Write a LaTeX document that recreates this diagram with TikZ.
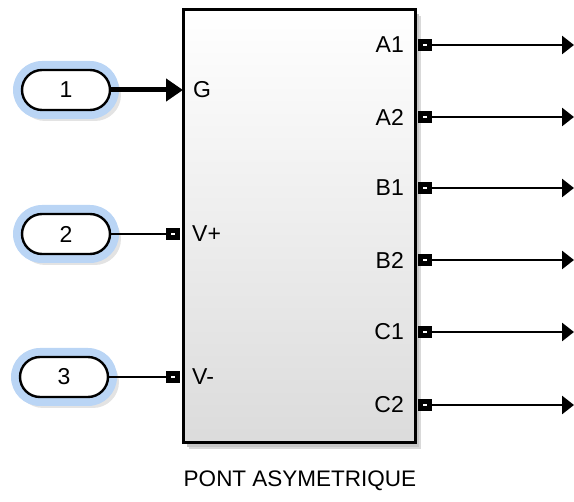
\documentclass[tikz,border=0pt]{standalone}
\usepackage{fontspec}
\setmainfont{Liberation Sans}
\usetikzlibrary{arrows.meta,shapes.misc}
\definecolor{halo}{HTML}{BAD5F5}
\begin{document}
\begin{tikzpicture}[x=1pt,y=-1pt,
  lbl/.style={font=\fontsize{23}{23}\selectfont, inner sep=0pt},
  inport/.style={rounded rectangle, draw, line width=2.4pt, minimum width=88pt, minimum height=40pt, fill=white, inner sep=0pt, font=\fontsize{23}{23}\selectfont},
  inhalo/.style={rounded rectangle, fill=halo, minimum width=106pt, minimum height=58pt, inner sep=0pt},
  inshadow/.style={rounded rectangle, fill=gray!22, minimum width=102pt, minimum height=52pt, inner sep=0pt},
  portsq/.style={draw, line width=5pt, fill=white, minimum width=8.5pt, minimum height=6.5pt, inner sep=0pt},
  sig/.style={line width=2.6pt},
  outsig/.style={line width=2.8pt, -{Triangle[length=12pt,width=18pt]}}
]
\useasboundingbox (0,0) rectangle (574,502);
% block shadow
\fill[gray!30] (189,16) rectangle (421,449);
\fill[gray!45] (187,14) rectangle (419,447);
% block
\shade[top color=white, bottom color=gray!28] (183,10) rectangle (415,443);
\draw[line width=3pt] (183,10) rectangle (415,443);
\node[inner sep=0pt, minimum width=232pt, minimum height=433pt] (blk) at (299,226.5) {};
% inports
\foreach \i/\x/\y in {1/66/90, 2/66/234, 3/64/377}{
  \node[inshadow] at (\x+4,\y+5) {};
  \node[inhalo] at (\x,\y) {};
}
\node[inport] (in1) at (66,90) {1};
\node[inport] (in2) at (66,234) {2};
\node[inport] (in3) at (64,377) {3};
% input port squares
\node[portsq] (pvp) at (173,234) {};
\node[portsq] (pvm) at (173,377) {};
\coordinate (pg) at (183,90);
% input labels
\node[lbl, anchor=west] at (193,90) {G};
\node[lbl, anchor=west] at (192,234) {V+};
\node[lbl, anchor=west] at (192,377) {V-};
% connections
\draw[line width=5pt, -{Triangle[length=17pt,width=22pt]}] (in1.east) -- (pg);
\draw[sig] (in2.east) -- (pvp.west);
\draw[sig] (in3.east) -- (pvm.west);
% outputs
\foreach \n/\t/\y in {a1/A1/45, a2/A2/117, b1/B1/188, b2/B2/260, c1/C1/332, c2/C2/405}{
  \node[lbl, anchor=east] at (404,\y) {\t};
  \node[portsq] (p\n) at (425,\y) {};
  \coordinate (o\n) at (574,\y);
  \draw[outsig] (p\n.east) -- (o\n);
}
% title
\node[lbl, font=\fontsize{22.5}{22.5}\selectfont] (title) at (300,481) {PONT ASYMETRIQUE};
\end{tikzpicture}
\end{document}
